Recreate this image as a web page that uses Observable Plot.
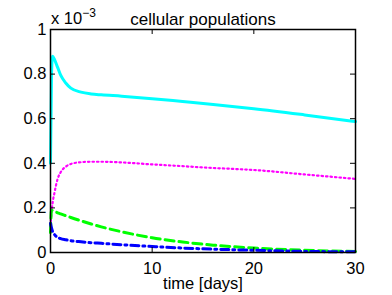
<!DOCTYPE html>
<html><head><meta charset="utf-8">
<script src="https://cdn.jsdelivr.net/npm/d3@7"></script>
<script src="https://cdn.jsdelivr.net/npm/@observablehq/plot@0.6"></script>
<style>body{margin:0;background:#fff}</style>
</head><body><div id="chart"></div>
<script>
const title = "cellular populations";
const xLabel = "time [days]";
const times   = [0, 0.1, 0.2, 0.4, 0.7, 1, 1.5, 2, 3, 4, 5, 7, 10, 13, 16, 20, 25, 30];
const cyanV   = [0.40, 0.80, 0.88, 0.865, 0.83, 0.795, 0.76, 0.737, 0.719, 0.711, 0.707, 0.701, 0.69, 0.677, 0.664, 0.645, 0.617, 0.587];
const magentaV= [0.12, 0.18, 0.22, 0.27, 0.33, 0.36, 0.385, 0.397, 0.405, 0.407, 0.407, 0.404, 0.395, 0.387, 0.379, 0.37, 0.35, 0.33];
const greenV  = [0.09, 0.19, 0.188, 0.184, 0.178, 0.173, 0.165, 0.157, 0.142, 0.128, 0.115, 0.093, 0.066, 0.047, 0.033, 0.02, 0.01, 0.005];
const blueV   = [0.13, 0.11, 0.095, 0.08, 0.068, 0.062, 0.057, 0.053, 0.048, 0.044, 0.041, 0.035, 0.027, 0.02, 0.015, 0.01, 0.005, 0.003];
const xTicks = [0, 10, 20, 30];
const yTicks = [0, 0.2, 0.4, 0.6, 0.8, 1];

const rows = (v) => times.map((t, i) => ({t, v: v[i]}));
const font = "Liberation Sans, Arial, Helvetica, sans-serif";
const W = 392, H = 295, mL = 50, mR = 37, mT = 29, mB = 43;
const fw = W - mL - mR, fh = H - mT - mB, tk = 5;
const fs = 16.5;

const chart = Plot.plot({
  width: W, height: H,
  marginLeft: mL, marginRight: mR, marginTop: mT, marginBottom: mB,
  style: {fontFamily: font, fontSize: fs + "px", color: "#000", background: "#fff"},
  x: {domain: [0, 30], ticks: xTicks, label: null},
  y: {domain: [0, 1], ticks: yTicks, label: null},
  marks: [
    Plot.line(rows(magentaV), {x: "t", y: "v", stroke: "#ff00ff", strokeWidth: 2.2, strokeDasharray: "1.5,3", curve: "monotone-x"}),
    Plot.line(rows(greenV), {x: "t", y: "v", stroke: "#00ff00", strokeWidth: 3, strokeDasharray: "9,5", curve: "monotone-x"}),
    Plot.line(rows(blueV), {x: "t", y: "v", stroke: "#0000ff", strokeWidth: 3, strokeDasharray: "8,4,2,4", curve: "monotone-x"}),
    Plot.line(rows(cyanV), {x: "t", y: "v", stroke: "#00ffff", strokeWidth: 3, curve: "monotone-x"}),
    Plot.frame({stroke: "#000", strokeWidth: 1.5}),
    Plot.tickY(yTicks, {y: d => d, stroke: "#000", insetRight: fw - tk}),
    Plot.tickY(yTicks, {y: d => d, stroke: "#000", insetLeft: fw - tk}),
    Plot.tickX(xTicks, {x: d => d, stroke: "#000", insetTop: fh - tk}),
    Plot.tickX(xTicks, {x: d => d, stroke: "#000", insetBottom: fh - tk}),
    Plot.axisX(xTicks, {tickSize: 0, tickPadding: 10, fontSize: fs, tickFormat: d => String(d)}),
    Plot.axisY(yTicks, {tickSize: 0, tickPadding: 4, fontSize: fs, tickFormat: d => String(+d.toFixed(1))}),
    Plot.text([xLabel], {frameAnchor: "bottom", dy: 36, fontSize: fs, fill: "#000"}),
    Plot.text([title], {frameAnchor: "top", dy: -17, fontSize: 17, fill: "#000"})
  ]
});
const svg = d3.select(chart);
const ex = svg.append("text").attr("x", mL + 1).attr("y", mT - 5).attr("text-anchor", "start")
  .attr("font-size", fs).attr("font-family", font).attr("fill", "#000");
ex.append("tspan").text("x 10");
ex.append("tspan").attr("dy", -7).attr("font-size", 12).text("\u22123");
document.getElementById("chart").appendChild(chart);
</script></body></html>
